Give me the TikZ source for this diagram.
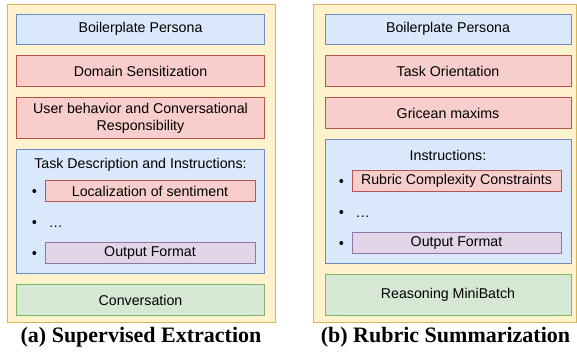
\documentclass[tikz,border=0pt]{standalone}
\usepackage{fontspec}
\setmainfont{Liberation Serif}
\setsansfont{Liberation Sans}
\usetikzlibrary{positioning}
\usetikzlibrary{calc}
\usetikzlibrary{fit}
\usetikzlibrary{backgrounds}
\definecolor{bluefill}{RGB}{218,232,252}
\definecolor{blueline}{RGB}{108,142,191}
\definecolor{redfill}{RGB}{248,206,204}
\definecolor{redline}{RGB}{184,84,80}
\definecolor{greenfill}{RGB}{213,232,212}
\definecolor{greenline}{RGB}{130,179,102}
\definecolor{purplefill}{RGB}{225,213,231}
\definecolor{purpleline}{RGB}{150,115,166}
\definecolor{yellowfill}{RGB}{255,242,204}
\definecolor{yellowline}{RGB}{214,182,86}

\begin{document}
\begin{tikzpicture}[x=1pt, y=-1pt,
    label text/.style={font=\sffamily\fontsize{14.2}{17}\selectfont, inner sep=0pt},
    module/.style={label text, draw, line width=1pt, align=center, minimum height=31pt},
    bluebox/.style={module, fill=bluefill, draw=blueline},
    redbox/.style={module, fill=redfill, draw=redline},
    greenbox/.style={module, fill=greenfill, draw=greenline},
    purplebox/.style={module, fill=purplefill, draw=purpleline},
    wide/.style={minimum width=248pt},
    narrow/.style={minimum height=21pt, minimum width=210pt},
    panel/.style={draw=yellowline, fill=yellowfill, line width=1pt, inner sep=0pt},
    dot/.style={circle, fill=black, inner sep=0pt, minimum size=4pt},
    caption/.style={font=\rmfamily\bfseries\fontsize{22}{26}\selectfont, inner sep=0pt},
]
    \useasboundingbox (0,0) rectangle (577,354);

    % (a) supervised extraction
    \node[bluebox, wide, minimum height=30pt] (lpersona) at (140.5,29) {Boilerplate Persona};
    \node[redbox, wide, below=10.5pt of lpersona] (ldomain) {Domain Sensitization};
    \node[redbox, wide, minimum height=41pt, below=10pt of ldomain] (luser) {User behavior and Conversational\\Responsibility};
    \node[bluebox, wide, minimum height=124pt, below=10pt of luser] (ltask) {};
    \node[greenbox, wide, below=10pt of ltask] (lconv) {Conversation};

    \node[label text] (ltitle) at ([yshift=-16pt]ltask.north) {Task Description and Instructions:};
    \node[redbox, narrow] (lloc) at ([xshift=9.5pt, yshift=20.5pt]ltask.center) {Localization of sentiment};
    \node[purplebox, narrow] (lout) at ([xshift=9.5pt, yshift=-41.5pt]ltask.center) {Output Format};
    \node[dot, left=8pt of lloc] (ldot1) {};
    \node[dot, left=8pt of lout] (ldot3) {};
    \node[dot] (ldot2) at ($(ldot1)!0.5!(ldot3)$) {};
    \node[label text, right=12pt of ldot2, yshift=-5pt] (lmore) {\dots};

    % (b) rubric summarization
    \node[bluebox, minimum width=246pt, minimum height=30pt] (rpersona) at (448,29) {Boilerplate Persona};
    \node[redbox, minimum width=246pt, below=10.5pt of rpersona] (rtask) {Task Orientation};
    \node[redbox, minimum width=246pt, below=10pt of rtask] (rgrice) {Gricean maxims};
    \node[bluebox, minimum width=246pt, minimum height=124pt, below=10pt of rgrice] (rinstr) {};
    \node[greenbox, minimum width=246pt, minimum height=41pt, below=10pt of rinstr] (rconv) {Reasoning MiniBatch};

    \node[label text] (rtitle) at ([yshift=-16pt]rinstr.north) {Instructions:};
    \node[redbox, narrow, minimum width=209pt] (rrubric) at ([xshift=8.5pt, yshift=20.5pt]rinstr.center) {Rubric Complexity Constraints};
    \node[purplebox, narrow, minimum width=209pt] (rout) at ([xshift=8.5pt, yshift=-41.5pt]rinstr.center) {Output Format};
    \node[dot, left=8pt of rrubric] (rdot1) {};
    \node[dot, left=8pt of rout] (rdot3) {};
    \node[dot] (rdot2) at ($(rdot1)!0.5!(rdot3)$) {};
    \node[label text, right=12pt of rdot2, yshift=-5pt] (rmore) {\dots};

    \begin{scope}[on background layer]
        \node[panel, fit={(7,4) (275,322)}] (lpanel) {};
        \node[panel, fit={(313,4) (576,322)}] (rpanel) {};
    \end{scope}

    \node[caption] (lcap) at ([yshift=-15pt]lpanel.south) {(a) Supervised Extraction};
    \node[caption] (rcap) at ([xshift=1pt, yshift=-15pt]rpanel.south) {(b) Rubric Summarization};

\end{tikzpicture}
\end{document}
